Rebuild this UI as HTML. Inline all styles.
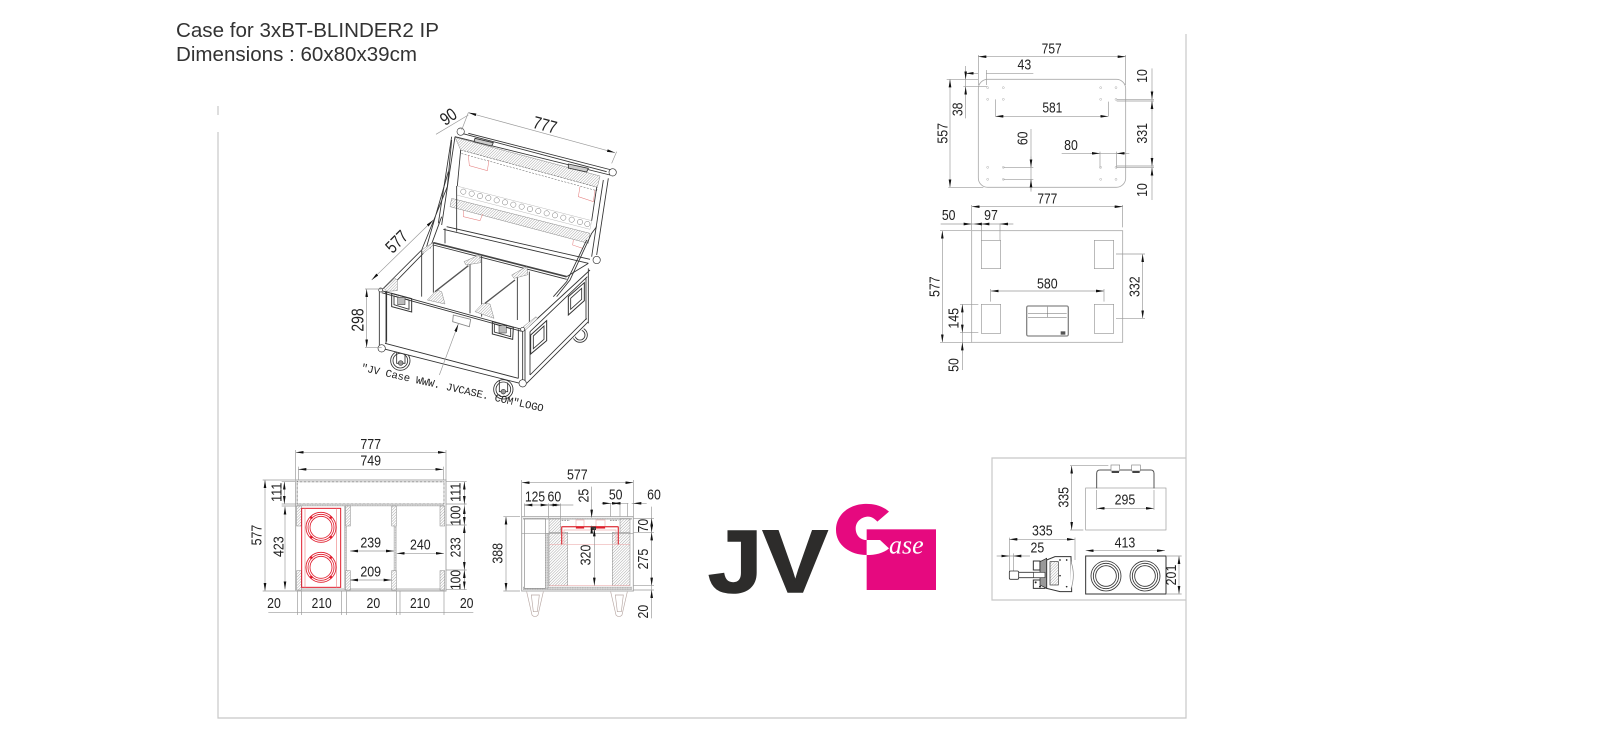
<!DOCTYPE html>
<html><head><meta charset="utf-8"><title>Case for 3xBT-BLINDER2 IP</title>
<style>
html,body{margin:0;padding:0;background:#fff;width:1600px;height:738px;overflow:hidden}
svg{display:block}
text{font-family:"Liberation Sans",sans-serif;fill:#222}
.t{font-size:43px;text-anchor:middle;dominant-baseline:central}
.b{font-size:53px}
.d{stroke:#999;stroke-width:2;fill:none}
.a{stroke:#999;stroke-width:2;fill:none;marker-start:url(#a);marker-end:url(#a)}
.e{stroke:#999;stroke-width:2;fill:none;marker-end:url(#a)}
.o{stroke:#333;stroke-width:2.6;fill:none}
.g{stroke:#aaa;stroke-width:2.5;fill:none}
.r{stroke:#e01c2c;stroke-width:2.5;fill:none}
.p{stroke:#eeb0b0;stroke-width:2;fill:none}
.h{fill:url(#hatch);stroke:#888;stroke-width:1.5}
.k{fill:url(#dots);stroke:#999;stroke-width:1}
</style></head><body>
<svg width="1600" height="738" viewBox="0 0 1600 738" xmlns="http://www.w3.org/2000/svg">
<defs>
<marker id="a" viewBox="-24 -4 24 8" refX="0" refY="0" markerWidth="24" markerHeight="8" markerUnits="userSpaceOnUse" orient="auto-start-reverse"><path d="M0,0L-24,-4L-24,4Z" fill="#111"/></marker>
<pattern id="hatch" patternUnits="userSpaceOnUse" width="6" height="6" patternTransform="rotate(45)"><rect width="6" height="6" fill="#fff"/><line x1="0" y1="0" x2="0" y2="6" stroke="#888" stroke-width="2.2"/></pattern>
<pattern id="dots" patternUnits="userSpaceOnUse" width="5" height="5"><rect width="5" height="5" fill="#ddd"/><circle cx="2" cy="2" r="1.2" fill="#888"/></pattern>
</defs>
<rect width="1600" height="738" fill="#fff"/>

<!-- frame -->
<g stroke="#c8c8c8" stroke-width="1.2" fill="none">
<path d="M218 106V115M218 132V718H1186V34"/>
<path d="M1186 458H992V600H1186"/>
</g>

<text x="176" y="37" font-size="20" textLength="263" lengthAdjust="spacingAndGlyphs" style="fill:#333">Case for 3xBT-BLINDER2 IP</text>
<text x="176" y="61" font-size="20" textLength="241" lengthAdjust="spacingAndGlyphs" style="fill:#333">Dimensions : 60x80x39cm</text>

<!-- ISO VIEW -->
<g transform="translate(340 100) scale(.33333)">
<!-- wheels first, hidden by the case -->
<g fill="#fff" stroke="#333" stroke-width="2.6">
<circle cx="181" cy="782" r="29"/><circle cx="181" cy="782" r="22"/>
<circle cx="490" cy="868" r="29"/><circle cx="490" cy="868" r="22"/>
<circle cx="720" cy="705" r="22"/><circle cx="720" cy="705" r="15"/>
</g>
<path class="o" d="M170 755V790H195V760M478 840V875H503V848"/>
<circle cx="182" cy="789" r="7" fill="#999" stroke="#333" stroke-width="2"/>
<circle cx="490" cy="875" r="7" fill="#999" stroke="#333" stroke-width="2"/>
<path d="M118 570L550 690L555 850L125 745Z" fill="#fff"/>
<path d="M555 690L750 510V668L560 850Z" fill="#fff"/>
<!-- lid -->
<path class="h" d="M345 112L780 228L772 262L362 150Z"/>
<path d="M362 150L772 262L770 272L362 160Z" fill="#fff" stroke="#555" stroke-width="1.5" stroke-dasharray="6 4"/>
<path class="k" style="fill:#fff" d="M350 258L755 362L750 388L350 285Z"/>
<g fill="none" stroke="#777" stroke-width="1.5">
<circle cx="370" cy="275" r="8"/><circle cx="395" cy="281" r="8"/><circle cx="420" cy="288" r="8"/><circle cx="445" cy="294" r="8"/><circle cx="470" cy="301" r="8"/><circle cx="495" cy="307" r="8"/><circle cx="520" cy="314" r="8"/><circle cx="545" cy="320" r="8"/><circle cx="570" cy="327" r="8"/><circle cx="595" cy="333" r="8"/><circle cx="620" cy="340" r="8"/><circle cx="645" cy="346" r="8"/><circle cx="670" cy="353" r="8"/><circle cx="695" cy="359" r="8"/><circle cx="720" cy="366" r="8"/><circle cx="742" cy="372" r="8"/>
</g>
<path class="h" d="M335 295L750 400L745 430L330 320Z"/>
<path class="o" d="M365 100L800 215M385 100L815 210M345 110L810 225"/>
<path class="o" d="M345 110L305 375M335 110L295 370M805 235L770 465M790 240L755 470"/>
<path class="o" d="M350 258L350 395M362 150L352 258M770 262L755 362"/>
<path class="o" d="M320 380L750 478M310 388L745 490"/>
<path class="o" d="M315 385V430"/>
<path d="M405 115L460 128L455 138L402 125Z" fill="#ccc" stroke="#333" stroke-width="2.6"/>
<path d="M685 192L745 205L740 216L685 204Z" fill="#ccc" stroke="#333" stroke-width="2.6"/>
<g stroke="#e57f7f" stroke-width="1.6" fill="none">
<path d="M385 165L388 197L442 212L447 180"/>
<path d="M720 260L715 290L760 305L765 270"/>
<path d="M370 332L370 350L420 362L428 342"/>
<path d="M700 420L698 435L728 445"/>
</g>
<!-- struts -->
<path class="o" d="M335 120L322 260L245 450M325 215L260 440M305 350L270 445"/>
<path class="o" d="M770 380L755 400L690 540L650 590M740 420L680 545L640 590"/>
<!-- interior -->
<path class="o" d="M245 450V590M280 428V578M125 570L245 450M135 578L250 460"/>
<path d="M280 428L680 530" stroke="#444" stroke-width="5" fill="none"/>
<path class="o" d="M280 435L680 538M680 530L745 490"/>
<path class="h" d="M132 565L165 535L172 540L172 572L140 574Z"/>
<path class="h" d="M245 450L275 430L280 435L250 460Z"/>
<path class="o" d="M390 480V640M425 468V650M532 530V660M568 515V675"/>
<path class="h" d="M372 485L418 465L422 488L378 495Z"/>
<path class="h" d="M515 525L560 500L564 524L522 535Z"/>
<path class="h" d="M262 600L290 570L305 575L315 612Z"/>
<path class="h" d="M405 635L428 610L450 612L462 655Z"/>
<path d="M385 497L285 575M525 540L435 610" stroke="#555" stroke-width="4" fill="none"/>
<!-- front -->
<path class="o" d="M125 572L545 688M125 578L545 694"/>
<path class="o" d="M118 570V735M138 574V730M125 745L540 850M135 730L535 835M140 575V725"/>
<path class="o" d="M535 688V835M555 690V850M548 694V845"/>
<path class="o" d="M555 690L750 510M570 695L742 530M560 850L745 665M570 825L740 655M745 505V670M570 695V825M738 535V660"/>
<path class="h" d="M550 680L588 650L592 656L556 690Z"/>
<path class="o" d="M155 580L215 596L215 636L155 620Z" style="stroke-width:3"/>
<path class="o" d="M162 588L207 600V628L162 614Z"/>
<rect x="173" y="592" width="22" height="22" fill="#bbb" stroke="#333" stroke-width="1.5"/>
<path class="o" d="M457 665L520 682L518 718L457 702Z" style="stroke-width:3"/>
<path class="o" d="M463 672L512 686V710L463 696Z"/>
<rect x="477" y="677" width="22" height="22" fill="#bbb" stroke="#333" stroke-width="1.5"/>
<path class="o" d="M572 705L620 662L620 722L572 762Z" style="stroke-width:3"/>
<path class="o" d="M580 708L612 678V718L580 746Z"/>
<path class="o" d="M685 590L733 548V602L685 645Z" style="stroke-width:3"/>
<path class="o" d="M692 595L725 565V598L692 628Z"/>
<path class="o" d="M340 645L392 658L388 680L338 665Z" style="stroke:#888"/>
<!-- corners -->
<g fill="#fff" stroke="#333" stroke-width="2">
<circle cx="125" cy="745" r="11"/><circle cx="548" cy="850" r="11"/><circle cx="122" cy="570" r="6"/><circle cx="548" cy="688" r="6"/>
<circle cx="770" cy="480" r="11"/><circle cx="818" cy="217" r="11"/><circle cx="362" cy="95" r="11"/>
</g>
<!-- dims -->
<line class="a" x1="385" y1="38" x2="825" y2="158"/>
<path class="d" d="M385 38L365 90M830 155L815 190"/>
<text class="t b" transform="rotate(15 615 75)" x="615" y="75" textLength="72" lengthAdjust="spacingAndGlyphs">777</text>
<path class="d" d="M288 103L385 45"/>
<text class="t b" transform="rotate(-35 325 50)" x="325" y="50" textLength="48" lengthAdjust="spacingAndGlyphs">90</text>
<line class="a" x1="95" y1="540" x2="280" y2="360"/>
<text class="t b" transform="rotate(-45 170 425)" x="170" y="425" textLength="70" lengthAdjust="spacingAndGlyphs">577</text>
<line class="a" x1="80" y1="567" x2="80" y2="742"/>
<path class="d" d="M75 567H125M75 742H125"/>
<text class="t b" transform="rotate(-90 52 660)" x="52" y="660" textLength="70" lengthAdjust="spacingAndGlyphs">298</text>
<path class="d" d="M355 672L298 825" marker-start="url(#a)"/>
<text transform="rotate(12.7 62 812)" x="62" y="812" font-size="32" textLength="560" lengthAdjust="spacing" style="font-family:'Liberation Mono',monospace">"JV Case WWW. JVCASE. COM"LOGO</text>
</g>

<!-- PLATE TOP -->
<g transform="translate(900 40) scale(.33333)">
<rect class="g" x="235" y="118" width="442" height="324" rx="28"/>
<g fill="#fff" stroke="#aaa" stroke-width="1.5">
<circle cx="263" cy="143" r="3"/><circle cx="310" cy="143" r="3"/><circle cx="602" cy="143" r="3"/><circle cx="648" cy="143" r="3"/>
<circle cx="263" cy="178" r="3"/><circle cx="310" cy="178" r="3"/><circle cx="602" cy="178" r="3"/><circle cx="648" cy="178" r="3"/>
<circle cx="263" cy="382" r="3"/><circle cx="310" cy="382" r="3"/><circle cx="602" cy="382" r="3"/><circle cx="648" cy="382" r="3"/>
<circle cx="263" cy="418" r="3"/><circle cx="310" cy="418" r="3"/><circle cx="602" cy="418" r="3"/><circle cx="648" cy="418" r="3"/>
</g>
<line class="a" x1="235" y1="50" x2="677" y2="50"/>
<path class="d" d="M235 45V135M677 45V135"/>
<text class="t" x="455" y="28" textLength="60" lengthAdjust="spacingAndGlyphs">757</text>
<text class="t" x="373" y="77" textLength="41" lengthAdjust="spacingAndGlyphs">43</text>
<path class="d" d="M197 78V235M259 90V135M140 118H235M190 140H262M259 100H400"/>
<line class="e" x1="235" y1="100" x2="197" y2="100"/>
<line class="e" x1="197" y1="90" x2="197" y2="118"/>
<line class="e" x1="197" y1="165" x2="197" y2="140"/>
<text class="t" transform="rotate(-90 175 208)" x="175" y="208" textLength="41" lengthAdjust="spacingAndGlyphs">38</text>
<line class="a" x1="150" y1="118" x2="150" y2="442"/>
<path class="d" d="M145 442H250"/>
<text class="t" transform="rotate(-90 130 280)" x="130" y="280" textLength="62" lengthAdjust="spacingAndGlyphs">557</text>
<line class="a" x1="286" y1="229" x2="625" y2="229"/>
<path class="d" d="M286 178V229M625 185V229"/>
<text class="t" x="457" y="205" textLength="60" lengthAdjust="spacingAndGlyphs">581</text>
<path class="d" d="M393 267V455M310 382H400M310 418H400"/>
<line class="e" x1="393" y1="350" x2="393" y2="382"/>
<line class="e" x1="393" y1="450" x2="393" y2="418"/>
<text class="t" transform="rotate(-90 370 295)" x="370" y="295" textLength="41" lengthAdjust="spacingAndGlyphs">60</text>
<path class="d" d="M485 340H688M600 335V385M650 335V385"/>
<line class="e" x1="570" y1="340" x2="600" y2="340"/>
<line class="e" x1="680" y1="340" x2="650" y2="340"/>
<text class="t" x="513" y="318" textLength="41" lengthAdjust="spacingAndGlyphs">80</text>
<path class="d" d="M756 85V480M650 178H762M650 183H762M650 378H762M650 383H762"/>
<line class="e" x1="756" y1="150" x2="756" y2="178"/>
<line class="e" x1="756" y1="211" x2="756" y2="183"/>
<line class="e" x1="756" y1="350" x2="756" y2="378"/>
<line class="e" x1="756" y1="411" x2="756" y2="383"/>
<text class="t" transform="rotate(-90 729 108)" x="729" y="108" textLength="41" lengthAdjust="spacingAndGlyphs">10</text>
<text class="t" transform="rotate(-90 729 280)" x="729" y="280" textLength="62" lengthAdjust="spacingAndGlyphs">331</text>
<text class="t" transform="rotate(-90 729 450)" x="729" y="450" textLength="41" lengthAdjust="spacingAndGlyphs">10</text>
</g>

<!-- PLATE BOTTOM -->
<g transform="translate(900 190) scale(.33333)">
<rect class="g" x="215" y="122" width="453" height="335"/>
<rect x="244" y="151" width="58" height="85" fill="none" stroke="#999" stroke-width="2"/>
<rect x="583" y="151" width="58" height="85" fill="none" stroke="#999" stroke-width="2"/>
<rect x="244" y="343" width="58" height="87" fill="none" stroke="#999" stroke-width="2"/>
<rect x="583" y="343" width="58" height="87" fill="none" stroke="#999" stroke-width="2"/>
<rect x="380" y="348" width="125" height="90" rx="5" fill="#fff" stroke="#888" stroke-width="4"/>
<path d="M384 382H500M443 350V382M384 370H500" stroke="#666" stroke-width="1.5" fill="none"/>
<rect x="482" y="424" width="14" height="10" fill="#555"/>
<line class="a" x1="215" y1="50" x2="668" y2="50"/>
<path class="d" d="M215 45V120M668 45V112"/>
<text class="t" x="442" y="28" textLength="60" lengthAdjust="spacingAndGlyphs">777</text>
<text class="t" x="146" y="78" textLength="41" lengthAdjust="spacingAndGlyphs">50</text>
<text class="t" x="273" y="78" textLength="41" lengthAdjust="spacingAndGlyphs">97</text>
<path class="d" d="M122 102H340M244 100V150M300 100V150"/>
<line class="e" x1="190" y1="102" x2="215" y2="102"/>
<line class="e" x1="244" y1="102" x2="222" y2="102"/>
<line class="e" x1="270" y1="102" x2="244" y2="102"/>
<line class="e" x1="326" y1="102" x2="300" y2="102"/>
<line class="a" x1="127" y1="122" x2="127" y2="457"/>
<path class="d" d="M120 122H215M120 457H215"/>
<text class="t" transform="rotate(-90 107 290)" x="107" y="290" textLength="62" lengthAdjust="spacingAndGlyphs">577</text>
<line class="a" x1="187" y1="343" x2="187" y2="428"/>
<path class="d" d="M180 343H235M180 428H235M187 428V540"/>
<line class="e" x1="187" y1="490" x2="187" y2="457"/>
<text class="t" transform="rotate(-90 163 385)" x="163" y="385" textLength="62" lengthAdjust="spacingAndGlyphs">145</text>
<text class="t" transform="rotate(-90 163 525)" x="163" y="525" textLength="41" lengthAdjust="spacingAndGlyphs">50</text>
<line class="a" x1="728" y1="192" x2="728" y2="385"/>
<path class="d" d="M648 192H735M648 385H735"/>
<text class="t" transform="rotate(-90 706 290)" x="706" y="290" textLength="62" lengthAdjust="spacingAndGlyphs">332</text>
<line class="a" x1="272" y1="303" x2="612" y2="303"/>
<path class="d" d="M272 297V335M612 297V335"/>
<text class="t" x="442" y="283" textLength="62" lengthAdjust="spacingAndGlyphs">580</text>
</g>

<!-- TOP SECTION -->
<g transform="translate(240 430) scale(.33333)">
<rect class="g" x="167" y="150" width="451" height="333" style="stroke-width:3"/>
<rect x="172" y="155" width="440" height="67" fill="#fff" stroke="#888" stroke-width="4" stroke-dasharray="2 2"/>
<rect class="k" x="172" y="222" width="440" height="6"/>
<rect class="k" x="172" y="476" width="440" height="4" style="fill:#ddd"/>
<rect class="k" x="313" y="228" width="7" height="250"/>
<rect class="k" x="462" y="228" width="7" height="250"/>
<g>
<rect class="h" x="170" y="228" width="14" height="60"/><rect class="h" x="170" y="422" width="14" height="58"/>
<rect class="h" x="317" y="228" width="14" height="60"/><rect class="h" x="317" y="422" width="14" height="58"/>
<rect class="h" x="455" y="228" width="14" height="60"/><rect class="h" x="455" y="422" width="14" height="58"/>
<rect class="h" x="600" y="228" width="14" height="60"/><rect class="h" x="600" y="422" width="14" height="58"/>
</g>
<rect x="185" y="235" width="117" height="237" fill="none" stroke="#e01c2c" stroke-width="3"/>
<path class="p" style="stroke:#e88" d="M195 235V472M290 235V472"/>
<g class="r" fill="none" stroke="#e01c2c" stroke-width="2">
<circle cx="243" cy="292" r="45"/><circle cx="243" cy="292" r="39"/><circle cx="243" cy="292" r="33"/>
<circle cx="243" cy="412" r="45"/><circle cx="243" cy="412" r="39"/><circle cx="243" cy="412" r="33"/>
</g>
<g fill="#e01c2c"><circle cx="214" cy="263" r="4"/><circle cx="272" cy="263" r="4"/><circle cx="214" cy="321" r="4"/><circle cx="272" cy="321" r="4"/><circle cx="214" cy="383" r="4"/><circle cx="272" cy="383" r="4"/><circle cx="214" cy="441" r="4"/><circle cx="272" cy="441" r="4"/></g>
<line class="a" x1="167" y1="67" x2="618" y2="67"/>
<line class="a" x1="175" y1="118" x2="610" y2="118"/>
<path class="d" d="M167 60V150M618 60V150M175 110V150M610 110V150"/>
<text class="t" x="392" y="45" textLength="62" lengthAdjust="spacingAndGlyphs">777</text>
<text class="t" x="392" y="95" textLength="62" lengthAdjust="spacingAndGlyphs">749</text>
<line class="a" x1="75" y1="150" x2="75" y2="483"/>
<path class="d" d="M68 150H165M68 483H165M125 155H165M125 222H170M125 228H175"/>
<text class="t" transform="rotate(-90 52 315)" x="52" y="315" textLength="62" lengthAdjust="spacingAndGlyphs">577</text>
<line class="a" x1="133" y1="155" x2="133" y2="222"/>
<line class="a" x1="135" y1="230" x2="135" y2="478"/>
<text class="t" transform="rotate(-90 112 187)" x="112" y="187" textLength="58" lengthAdjust="spacingAndGlyphs">111</text>
<text class="t" transform="rotate(-90 118 350)" x="118" y="350" textLength="62" lengthAdjust="spacingAndGlyphs">423</text>
<path class="d" d="M673 155V480M618 155H680M618 222H680M618 285H680M618 420H680M618 478H680"/>
<line class="a" x1="673" y1="155" x2="673" y2="222"/>
<line class="a" x1="673" y1="228" x2="673" y2="285"/>
<line class="a" x1="673" y1="285" x2="673" y2="420"/>
<line class="a" x1="673" y1="420" x2="673" y2="478"/>
<text class="t" transform="rotate(-90 650 187)" x="650" y="187" textLength="58" lengthAdjust="spacingAndGlyphs">111</text>
<text class="t" transform="rotate(-90 650 257)" x="650" y="257" textLength="60" lengthAdjust="spacingAndGlyphs">100</text>
<text class="t" transform="rotate(-90 650 352)" x="650" y="352" textLength="60" lengthAdjust="spacingAndGlyphs">233</text>
<text class="t" transform="rotate(-90 650 450)" x="650" y="450" textLength="60" lengthAdjust="spacingAndGlyphs">100</text>
<line class="a" x1="330" y1="363" x2="462" y2="363"/>
<line class="a" x1="330" y1="450" x2="455" y2="450"/>
<line class="a" x1="470" y1="370" x2="612" y2="370"/>
<text class="t" x="392" y="340" textLength="62" lengthAdjust="spacingAndGlyphs">239</text>
<text class="t" x="392" y="428" textLength="62" lengthAdjust="spacingAndGlyphs">209</text>
<text class="t" x="541" y="347" textLength="62" lengthAdjust="spacingAndGlyphs">240</text>
<path class="d" d="M85 548H700M172 483V555M185 483V555M305 483V555M320 483V555M470 483V555M480 483V555M612 483V555"/>
<text class="t" x="102" y="522" textLength="41" lengthAdjust="spacingAndGlyphs">20</text>
<text class="t" x="245" y="522" textLength="60" lengthAdjust="spacingAndGlyphs">210</text>
<text class="t" x="400" y="522" textLength="41" lengthAdjust="spacingAndGlyphs">20</text>
<text class="t" x="540" y="522" textLength="60" lengthAdjust="spacingAndGlyphs">210</text>
<text class="t" x="680" y="522" textLength="41" lengthAdjust="spacingAndGlyphs">20</text>
</g>

<!-- SIDE SECTION -->
<g transform="translate(490 455) scale(.33333)">
<rect class="g" x="95" y="185" width="335" height="223" style="stroke-width:3"/>
<rect class="k" x="100" y="190" width="325" height="3"/>
<rect class="k" x="100" y="396" width="325" height="8"/>
<rect class="h" x="177" y="192" width="35" height="40"/><rect class="h" x="390" y="192" width="30" height="40"/>
<rect class="h" x="177" y="232" width="56" height="160"/><rect class="h" x="367" y="232" width="53" height="160"/>
<rect x="103" y="192" width="63" height="208" fill="#fff" stroke="#888" stroke-width="2"/>
<rect class="k" x="166" y="235" width="9" height="165"/>
<path class="d" d="M95 235H430"/>
<path class="p" d="M178 268H420M178 392H420M258 195H282V220H258ZM318 195H345V220H318Z"/>
<path d="M215 268V218Q215 215 218 215H382Q385 215 385 218V268" fill="none" stroke="#e0454c" stroke-width="4"/>
<path class="p" d="M222 268V225H378V268"/>
<path d="M258 218H282M318 218H345" stroke="#e01c2c" stroke-width="5"/>
<rect x="302" y="215" width="16" height="10" fill="#333"/>
<path d="M215 196H240M360 196H385" stroke="#999" stroke-width="3" stroke-dasharray="5 3"/>
<g fill="none" stroke="#b9a9a5" stroke-width="2">
<path d="M110 410L126 480Q135 490 144 480L160 410"/>
<path d="M124 420H148L142 470H130ZM362 410L378 480Q387 490 396 480L412 410M376 420H400L394 470H382Z"/>
</g>
<line class="a" x1="95" y1="83" x2="430" y2="83"/>
<path class="d" d="M95 75V185M430 75V185"/>
<text class="t" x="262" y="62" textLength="62" lengthAdjust="spacingAndGlyphs">577</text>
<path class="d" d="M103 150H250M103 145V185M176 145V190M212 145V190M362 145V185M390 145V185M412 145V185M340 145H415M425 145H470"/>
<line class="a" x1="103" y1="150" x2="176" y2="150"/>
<line class="a" x1="176" y1="150" x2="212" y2="150"/>
<line class="e" x1="335" y1="145" x2="362" y2="145"/>
<line class="a" x1="368" y1="145" x2="390" y2="145"/>
<line class="e" x1="450" y1="145" x2="430" y2="145"/>
<text class="t" x="135" y="128" textLength="60" lengthAdjust="spacingAndGlyphs">125</text>
<text class="t" x="193" y="128" textLength="41" lengthAdjust="spacingAndGlyphs">60</text>
<text class="t" x="377" y="122" textLength="41" lengthAdjust="spacingAndGlyphs">50</text>
<text class="t" x="492" y="122" textLength="41" lengthAdjust="spacingAndGlyphs">60</text>
<path class="d" d="M305 95V185"/>
<line class="e" x1="305" y1="165" x2="305" y2="188"/>
<line class="e" x1="305" y1="235" x2="305" y2="212"/>
<text class="t" transform="rotate(-90 283 122)" x="283" y="122" textLength="41" lengthAdjust="spacingAndGlyphs">25</text>
<line class="a" x1="313" y1="220" x2="313" y2="392"/>
<text class="t" transform="rotate(-90 290 300)" x="290" y="300" textLength="62" lengthAdjust="spacingAndGlyphs">320</text>
<line class="a" x1="48" y1="185" x2="48" y2="408"/>
<path class="d" d="M40 185H90M40 408H90"/>
<text class="t" transform="rotate(-90 25 295)" x="25" y="295" textLength="62" lengthAdjust="spacingAndGlyphs">388</text>
<path class="d" d="M485 155V490M430 190H492M430 232H492M430 392H492M430 405H492"/>
<line class="a" x1="485" y1="190" x2="485" y2="232"/>
<line class="a" x1="485" y1="232" x2="485" y2="392"/>
<line class="e" x1="485" y1="430" x2="485" y2="405"/>
<text class="t" transform="rotate(-90 462 212)" x="462" y="212" textLength="41" lengthAdjust="spacingAndGlyphs">70</text>
<text class="t" transform="rotate(-90 462 312)" x="462" y="312" textLength="62" lengthAdjust="spacingAndGlyphs">275</text>
<text class="t" transform="rotate(-90 462 470)" x="462" y="470" textLength="41" lengthAdjust="spacingAndGlyphs">20</text>
</g>

<!-- LOGO -->
<text x="708" y="592" font-size="89" font-weight="700" textLength="120" lengthAdjust="spacingAndGlyphs" style="fill:#2d2c2b;stroke:#2d2c2b;stroke-width:1.5">JV</text>
<g transform="translate(685 485) scale(.33333)">
<rect x="545" y="133" width="208" height="182" fill="#e6097f"/>
<path d="M612 80C590 60 560 55 535 57C490 60 453 90 453 135C453 180 495 210 545 210L545 165C525 165 512 150 512 130C512 110 530 95 550 95C560 95 570 102 577 110Z" fill="#e6097f"/>
<path d="M545 165C560 165 575 165 585 165L612 190C595 205 570 210 545 210Z" fill="#fff"/>
<text x="612" y="205" font-size="78" font-style="italic" style="font-family:'Liberation Serif',serif;fill:#fff">ase</text>
</g>

<!-- FIXTURE -->
<g transform="translate(965 445) scale(.33333)">
<rect class="d" x="362" y="129" width="241" height="126"/>
<path d="M395 130V85Q395 75 405 75H557Q567 75 567 85V130" fill="none" stroke="#555" stroke-width="3"/>
<rect x="438" y="60" width="26" height="18" fill="#fff" stroke="#888" stroke-width="2"/>
<rect x="500" y="60" width="26" height="18" fill="#fff" stroke="#888" stroke-width="2"/>
<rect x="440" y="78" width="22" height="6" fill="#444"/><rect x="502" y="78" width="22" height="6" fill="#444"/>
<line class="a" x1="320" y1="62" x2="320" y2="255"/>
<path class="d" d="M315 62H430M315 255H355"/>
<text class="t" transform="rotate(-90 298 157)" x="298" y="157" textLength="62" lengthAdjust="spacingAndGlyphs">335</text>
<line class="a" x1="395" y1="190" x2="567" y2="190"/>
<path class="d" d="M395 135V195M567 135V195"/>
<text class="t" x="480" y="167" textLength="62" lengthAdjust="spacingAndGlyphs">295</text>
<line class="a" x1="133" y1="283" x2="330" y2="283"/>
<path class="d" d="M133 278V400M330 278V345M145 325V400M95 333H195"/>
<line class="e" x1="110" y1="333" x2="133" y2="333"/>
<line class="e" x1="170" y1="333" x2="145" y2="333"/>
<text class="t" x="232" y="260" textLength="62" lengthAdjust="spacingAndGlyphs">335</text>
<text class="t" x="217" y="310" textLength="41" lengthAdjust="spacingAndGlyphs">25</text>
<line class="a" x1="362" y1="317" x2="600" y2="317"/>
<text class="t" x="480" y="295" textLength="62" lengthAdjust="spacingAndGlyphs">413</text>
<rect x="362" y="333" width="241" height="114" fill="#fff" stroke="#333" stroke-width="3"/>
<g fill="none" stroke="#333" stroke-width="2.5">
<circle cx="423" cy="393" r="45"/><circle cx="423" cy="393" r="38"/><circle cx="423" cy="393" r="31"/>
<circle cx="540" cy="393" r="45"/><circle cx="540" cy="393" r="38"/><circle cx="540" cy="393" r="31"/>
</g>
<line class="a" x1="642" y1="333" x2="642" y2="447"/>
<path class="d" d="M603 333H650M603 447H650"/>
<text class="t" transform="rotate(-90 621 390)" x="621" y="390" textLength="62" lengthAdjust="spacingAndGlyphs">201</text>
<rect x="133" y="378" width="28" height="25" rx="4" fill="#fff" stroke="#333" stroke-width="2.5"/>
<path class="o" d="M161 382H240M161 398H240" style="stroke-width:2.5"/>
<path d="M205 348H225V375H205ZM205 405H240V430H205Z" fill="#fff" stroke="#333" stroke-width="3"/>
<path d="M245 345L270 335H318L320 440H285L245 430Z" fill="#fff" stroke="#333" stroke-width="3"/>
<path d="M225 350L245 340V430L225 420Z" fill="#999" stroke="#222" stroke-width="2"/>
<rect x="255" y="350" width="25" height="70" fill="url(#hatch)" stroke="#333" stroke-width="2"/>
<path d="M318 350Q332 390 318 432" fill="#fff" stroke="#888" stroke-width="2"/>
<rect x="205" y="382" width="35" height="16" fill="#fff" stroke="#333" stroke-width="2"/>
<g fill="#222"><circle cx="285" cy="345" r="2.5"/><circle cx="305" cy="345" r="2.5"/><circle cx="285" cy="392" r="2.5"/><circle cx="305" cy="425" r="2.5"/><circle cx="212" cy="412" r="3"/><circle cx="225" cy="425" r="3"/></g>
</g>
</svg>
</body></html>
